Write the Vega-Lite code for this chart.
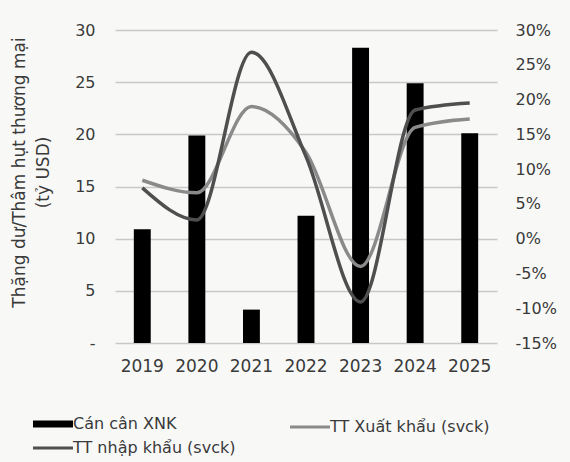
{
  "$schema": "https://vega.github.io/schema/vega-lite/v6.json",
  "autosize": {"type": "none"},
  "padding": {"left": 115, "top": 30, "right": 73, "bottom": 119},
  "width": 382,
  "height": 313,
  "background": "#f8f9f7",
  "config": {
    "view": {"stroke": null},
    "font": "DejaVu Sans",
    "axis": {"labelFont": "DejaVu Sans", "labelColor": "#3a3a3a", "titleColor": "#3a3a3a", "titleFont": "DejaVu Sans", "titleFontWeight": "normal"},
    "legend": {"labelFont": "DejaVu Sans", "labelColor": "#3a3a3a"}
  },
  "data": {
    "values": [
      {"year": "2019", "series": "Cán cân XNK", "value": 10.9},
      {"year": "2020", "series": "Cán cân XNK", "value": 19.9},
      {"year": "2021", "series": "Cán cân XNK", "value": 3.2},
      {"year": "2022", "series": "Cán cân XNK", "value": 12.2},
      {"year": "2023", "series": "Cán cân XNK", "value": 28.3},
      {"year": "2024", "series": "Cán cân XNK", "value": 24.9},
      {"year": "2025", "series": "Cán cân XNK", "value": 20.1},
      {"year": "2019", "series": "TT Xuất khẩu (svck)", "value": 8.4},
      {"year": "2020", "series": "TT Xuất khẩu (svck)", "value": 6.6},
      {"year": "2021", "series": "TT Xuất khẩu (svck)", "value": 19.0},
      {"year": "2022", "series": "TT Xuất khẩu (svck)", "value": 12.4},
      {"year": "2023", "series": "TT Xuất khẩu (svck)", "value": -4.0},
      {"year": "2024", "series": "TT Xuất khẩu (svck)", "value": 16.0},
      {"year": "2025", "series": "TT Xuất khẩu (svck)", "value": 17.2},
      {"year": "2019", "series": "TT nhập khẩu (svck)", "value": 7.3},
      {"year": "2020", "series": "TT nhập khẩu (svck)", "value": 2.7},
      {"year": "2021", "series": "TT nhập khẩu (svck)", "value": 26.8},
      {"year": "2022", "series": "TT nhập khẩu (svck)", "value": 11.8},
      {"year": "2023", "series": "TT nhập khẩu (svck)", "value": -9.1},
      {"year": "2024", "series": "TT nhập khẩu (svck)", "value": 18.5},
      {"year": "2025", "series": "TT nhập khẩu (svck)", "value": 19.5}
    ]
  },
  "encoding": {
    "x": {
      "field": "year", "type": "nominal", "title": null,
      "scale": {"paddingInner": 0.69, "paddingOuter": 0.345},
      "axis": {"labelAngle": 0, "labelFontSize": 17, "labelPadding": 15, "ticks": false, "domain": false}
    }
  },
  "layer": [
    {
      "transform": [{"filter": "datum.series === 'Cán cân XNK'"}],
      "mark": {"type": "bar"},
      "encoding": {
        "y": {
          "field": "value", "type": "quantitative",
          "scale": {"domain": [0, 30], "nice": false},
          "axis": {
            "values": [0, 5, 10, 15, 20, 25, 30],
            "labelExpr": "datum.value === 0 ? '-' : datum.label",
            "labelFontSize": 16, "labelPadding": 20, "ticks": false, "domain": false,
            "gridColor": "#c8c8c8", "gridWidth": 1.5,
            "title": ["Thặng dư/Thâm hụt thương mại", "(tỷ USD)"],
            "titleFontSize": 17, "titleAngle": -90, "titleBaseline": "top", "titleAlign": "center",
            "titleX": -104, "titleY": 142, "titleLineHeight": 24
          }
        },
        "color": {
          "field": "series", "type": "nominal",
          "scale": {"domain": ["Cán cân XNK", "TT Xuất khẩu (svck)", "TT nhập khẩu (svck)"], "range": ["#000000", "#8a8a8a", "#4f4f4f"]},
          "legend": {
            "title": null, "orient": "none", "legendX": -70, "legendY": 386, "direction": "horizontal",
            "columns": 2, "columnPadding": 48, "rowPadding": 2, "labelLimit": 300,
            "symbolType": "stroke", "symbolSize": 1600, "labelFontSize": 16, "labelOffset": 12,
            "encode": {"symbols": {"update": {
              "stroke": {"scale": "color", "field": "value"},
              "strokeWidth": {"signal": "datum.value === 'Cán cân XNK' ? 7 : 3"}
            }}}
          }
        }
      }
    },
    {
      "transform": [{"filter": "datum.series !== 'Cán cân XNK'"}],
      "mark": {"type": "line", "interpolate": "monotone", "strokeWidth": 3.5},
      "encoding": {
        "y": {
          "field": "value", "type": "quantitative",
          "scale": {"domain": [-15, 30], "nice": false},
          "axis": {
            "orient": "right", "values": [-15, -10, -5, 0, 5, 10, 15, 20, 25, 30],
            "labelExpr": "datum.value + '%'", "grid": false,
            "labelFontSize": 16, "labelPadding": 18, "ticks": false, "domain": false, "title": null
          }
        },
        "color": {"field": "series", "type": "nominal"}
      }
    }
  ],
  "resolve": {"scale": {"y": "independent"}}
}
